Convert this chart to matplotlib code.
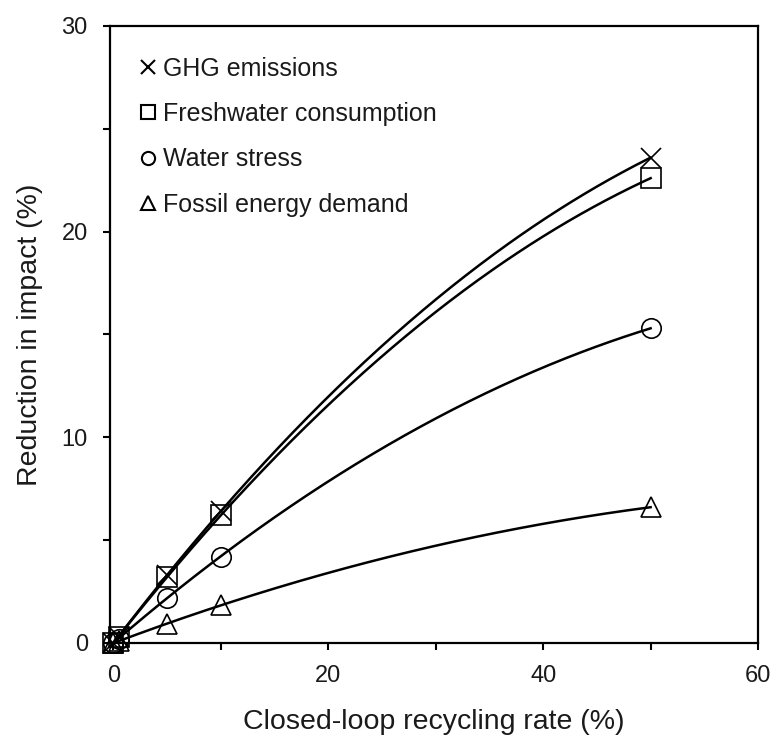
import numpy as np
import matplotlib
matplotlib.use("Agg")
import matplotlib.pyplot as plt
from matplotlib.lines import Line2D
from matplotlib.ticker import MultipleLocator

plt.rcParams['font.family'] = ['Liberation Sans', 'DejaVu Sans']

rate = [0, 0.5, 5, 10, 50]
ghg = [0, 0.3, 3.3, 6.4, 23.6]
freshwater = [0, 0.3, 3.2, 6.2, 22.6]
water_stress = [0, 0.2, 2.2, 4.2, 15.3]
fossil = [0, 0.1, 0.9, 1.85, 6.6]

labels = ["GHG emissions", "Freshwater consumption", "Water stress", "Fossil energy demand"]
markers = ["x", "s", "o", "^"]
series = [ghg, freshwater, water_stress, fossil]

TXT = "#1a1a1a"
FS_TICK = 17
FS_LEG = 18
FS_LAB = 20.5

fig = plt.figure(figsize=(7.72, 7.36), dpi=100)
ax = fig.add_axes([0.1425, 0.1264, 0.982 - 0.1425, 0.9647 - 0.1264])

xx = np.linspace(0, 50, 300)
handles = []
for ys, m, lab in zip(series, markers, labels):
    coef = np.polyfit(rate, ys, 2)
    ax.plot(xx, np.polyval(coef, xx), color="black", lw=1.8, zorder=2)
    ax.plot(rate, ys, linestyle="none", marker=m, markersize=14,
            markerfacecolor="none", markeredgecolor="black", markeredgewidth=1.2,
            clip_on=False, zorder=3)
    handles.append(Line2D([], [], linestyle="none", marker=m, markersize=9.5,
                          markerfacecolor="none", markeredgecolor="black",
                          markeredgewidth=1.5, label=lab))

ax.set_xlim(-0.3, 60)
ax.set_ylim(0, 30)
ax.xaxis.set_major_locator(MultipleLocator(20))
ax.xaxis.set_minor_locator(MultipleLocator(10))
ax.yaxis.set_major_locator(MultipleLocator(10))
ax.yaxis.set_minor_locator(MultipleLocator(5))
ax.tick_params(which="both", direction="out", length=5, width=1.5, color="black",
               labelsize=FS_TICK, labelcolor=TXT)
ax.tick_params(axis="y", which="major", pad=11)
ax.tick_params(axis="x", which="major", pad=11)
for s in ax.spines.values():
    s.set_linewidth(1.6)

ax.set_xlabel("Closed-loop recycling rate (%)", fontsize=FS_LAB, color=TXT, va="center")
ax.xaxis.set_label_coords(0.5, -0.128)
ax.set_ylabel("Reduction in impact (%)", fontsize=FS_LAB, color=TXT, va="center")
ax.yaxis.set_label_coords(-0.123, 0.5)

leg = ax.legend(handles=handles, loc="upper left", bbox_to_anchor=(0.03, 0.966),
                frameon=False, fontsize=FS_LEG, handlelength=0.7, handletextpad=0.25,
                labelspacing=0.85, borderaxespad=0)
for t in leg.get_texts():
    t.set_color(TXT)

fig.savefig("out.png", dpi=100)
